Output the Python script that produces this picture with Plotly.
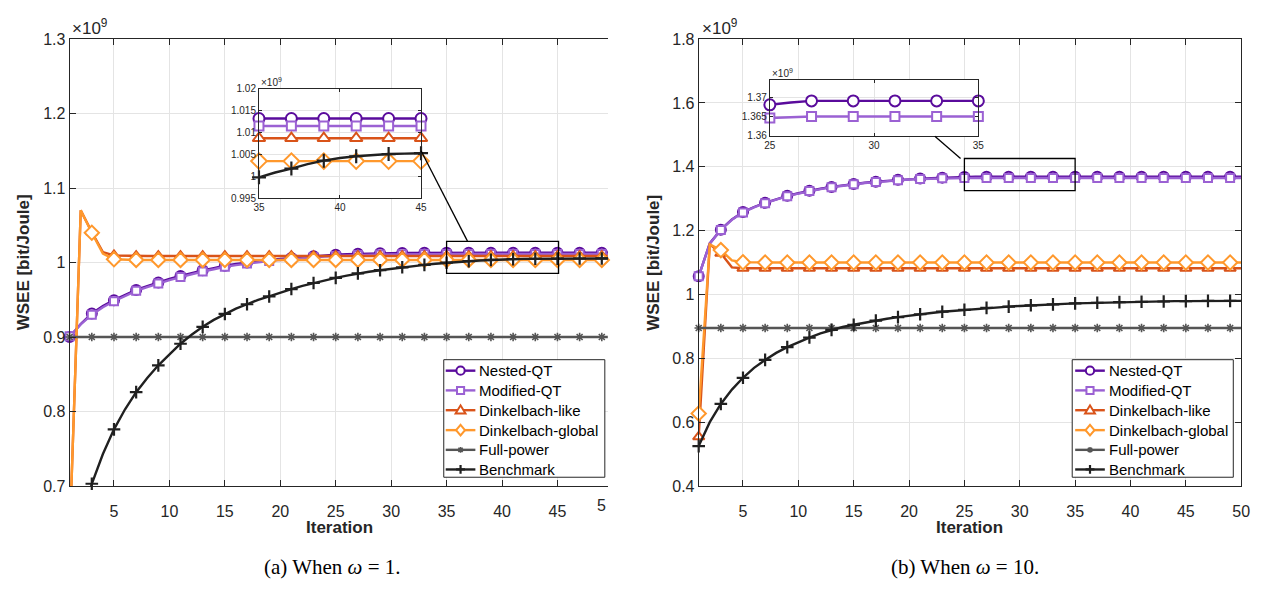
import plotly.graph_objects as go

W, H = 1266, 597
iters = list(range(1, 51))

# ---------------- data, omega = 1 (values in units of 1e9 bit/Joule) ----------------
nested_a = [0.900, 0.9175, 0.9315, 0.9415, 0.9495, 0.9565, 0.9632, 0.9683, 0.9733, 0.978,
            0.982, 0.986, 0.9895, 0.9925, 0.9958, 0.998, 1.0001, 1.0019, 1.0034, 1.0049,
            1.0062, 1.0075, 1.0085, 1.0095, 1.0104, 1.0111, 1.0117, 1.0121, 1.0124, 1.0127,
            1.0129, 1.013, 1.0131, 1.0132, 1.0132, 1.0132, 1.0132, 1.0132, 1.0132, 1.0132,
            1.0132, 1.0132, 1.0132, 1.0132, 1.0132, 1.0132, 1.0132, 1.0132, 1.0132, 1.0132]
modified_a = [0.901, 0.917, 0.930, 0.940, 0.948, 0.955, 0.962, 0.967, 0.972, 0.9765,
              0.9805, 0.9845, 0.988, 0.991, 0.9944, 0.9966, 0.9987, 1.0005, 1.002, 1.0035,
              1.0048, 1.006, 1.007, 1.008, 1.0088, 1.0095, 1.0101, 1.0105, 1.0108, 1.011,
              1.0112, 1.0113, 1.0114, 1.0115, 1.0115, 1.0115, 1.0115, 1.0115, 1.0115, 1.0115,
              1.0115, 1.0115, 1.0115, 1.0115, 1.0115, 1.0115, 1.0115, 1.0115, 1.0115, 1.0115]
dlike_a = [0.63, 1.070, 1.041, 1.014, 1.0095, 1.009, 1.0087, 1.0087, 1.0087, 1.0087,
           1.0087, 1.0087, 1.0087, 1.0087, 1.0087, 1.0087, 1.0087, 1.0087, 1.0087, 1.0087,
           1.0087, 1.0087, 1.0087, 1.0087, 1.0087, 1.0087, 1.0087, 1.0087, 1.0087, 1.0087,
           1.0087, 1.0087, 1.0087, 1.0087, 1.0087, 1.0087, 1.0087, 1.0087, 1.0087, 1.0087,
           1.0087, 1.0087, 1.0087, 1.0087, 1.0087, 1.0087, 1.0087, 1.0087, 1.0087, 1.0087]
dglobal_a = [0.63, 1.070, 1.040, 1.012, 1.0045, 1.0035, 1.0035, 1.0035, 1.0035, 1.0035,
             1.0035, 1.0035, 1.0035, 1.0035, 1.0035, 1.0035, 1.0035, 1.0035, 1.0035, 1.0035,
             1.0035, 1.0035, 1.0035, 1.0035, 1.0035, 1.0035, 1.0035, 1.0035, 1.0035, 1.0035,
             1.0035, 1.0035, 1.0035, 1.0035, 1.0035, 1.0035, 1.0035, 1.0035, 1.0035, 1.0035,
             1.0035, 1.0035, 1.0035, 1.0035, 1.0035, 1.0035, 1.0035, 1.0035, 1.0035, 1.0035]
full_a = [0.9] * 50
bench_a = [0.55, 0.64, 0.703, 0.743, 0.776, 0.803, 0.826, 0.845, 0.862, 0.877,
           0.891, 0.903, 0.9137, 0.923, 0.931, 0.938, 0.944, 0.950, 0.9545, 0.9597,
           0.9644, 0.9686, 0.9725, 0.976, 0.9794, 0.9825, 0.9854, 0.9877, 0.9897, 0.9917,
           0.9936, 0.9953, 0.9968, 0.9984, 0.9998, 1.0009, 1.0018, 1.0028, 1.0036, 1.0042,
           1.0046, 1.0049, 1.0051, 1.0052, 1.0053, 1.0054, 1.0054, 1.0055, 1.0055, 1.0055]

# ---------------- data, omega = 10 ----------------
nested_b = [1.057, 1.160, 1.203, 1.235, 1.258, 1.274, 1.287, 1.299, 1.309, 1.317,
            1.325, 1.331, 1.337, 1.342, 1.346, 1.350, 1.353, 1.356, 1.359, 1.361,
            1.363, 1.3645, 1.366, 1.367, 1.368, 1.3686, 1.369, 1.369, 1.369, 1.369,
            1.369, 1.369, 1.369, 1.369, 1.369, 1.369, 1.369, 1.369, 1.369, 1.369,
            1.369, 1.369, 1.369, 1.369, 1.369, 1.369, 1.369, 1.369, 1.369, 1.369]
modified_b = [1.057, 1.159, 1.202, 1.234, 1.257, 1.273, 1.286, 1.298, 1.308, 1.316,
              1.324, 1.330, 1.336, 1.341, 1.345, 1.349, 1.352, 1.355, 1.358, 1.360,
              1.3615, 1.3628, 1.3637, 1.3642, 1.3646, 1.3648, 1.365, 1.365, 1.365, 1.365,
              1.365, 1.365, 1.365, 1.365, 1.365, 1.365, 1.365, 1.365, 1.365, 1.365,
              1.365, 1.365, 1.365, 1.365, 1.365, 1.365, 1.365, 1.365, 1.365, 1.365]
dlike_b = [0.554, 1.157, 1.129, 1.085, 1.082, 1.082, 1.082, 1.082, 1.082, 1.082,
           1.082, 1.082, 1.082, 1.082, 1.082, 1.082, 1.082, 1.082, 1.082, 1.082,
           1.082, 1.082, 1.082, 1.082, 1.082, 1.082, 1.082, 1.082, 1.082, 1.082,
           1.082, 1.082, 1.082, 1.082, 1.082, 1.082, 1.082, 1.082, 1.082, 1.082,
           1.082, 1.082, 1.082, 1.082, 1.082, 1.082, 1.082, 1.082, 1.082, 1.082]
dglobal_b = [0.627, 1.157, 1.139, 1.107, 1.101, 1.100, 1.100, 1.100, 1.100, 1.100,
             1.100, 1.100, 1.100, 1.100, 1.100, 1.100, 1.100, 1.100, 1.100, 1.100,
             1.100, 1.100, 1.100, 1.100, 1.100, 1.100, 1.100, 1.100, 1.100, 1.100,
             1.100, 1.100, 1.100, 1.100, 1.100, 1.100, 1.100, 1.100, 1.100, 1.100,
             1.100, 1.100, 1.100, 1.100, 1.100, 1.100, 1.100, 1.100, 1.100, 1.100]
full_b = [0.895] * 50
bench_b = [0.525, 0.600, 0.657, 0.702, 0.739, 0.770, 0.795, 0.817, 0.835, 0.851,
           0.865, 0.878, 0.889, 0.898, 0.905, 0.912, 0.918, 0.924, 0.929, 0.934,
           0.938, 0.942, 0.946, 0.949, 0.952, 0.955, 0.958, 0.960, 0.962, 0.964,
           0.966, 0.968, 0.969, 0.971, 0.972, 0.973, 0.974, 0.975, 0.976, 0.977,
           0.977, 0.978, 0.978, 0.979, 0.979, 0.979, 0.980, 0.980, 0.980, 0.980]

names = ["Nested-QT", "Modified-QT", "Dinkelbach-like", "Dinkelbach-global", "Full-power", "Benchmark"]
colors = ["#5A0B9C", "#9B61D3", "#D95319", "#FF982C", "#555555", "#202020"]
symbols = ["circle", "square", "triangle-up", "diamond", "asterisk-open", "cross-thin-open"]
msizes = [10, 8, 10, 11, 7, 9]

x_ticks_a = [5, 10, 15, 20, 25, 30, 35, 40, 45]
x_ticks_b = [5, 10, 15, 20, 25, 30, 35, 40, 45, 50]
y_ticks_a = [0.7, 0.8, 0.9, 1.0, 1.1, 1.2, 1.3]
y_labels_a = ["0.7", "0.8", "0.9", "1", "1.1", "1.2", "1.3"]
y_ticks_b = [0.4, 0.6, 0.8, 1.0, 1.2, 1.4, 1.6, 1.8]
y_labels_b = ["0.4", "0.6", "0.8", "1", "1.2", "1.4", "1.6", "1.8"]
ins_y_a = [0.995, 1.0, 1.005, 1.01, 1.015, 1.02]
ins_y_a_lab = ["0.995", "1", "1.005", "1.01", "1.015", "1.02"]
ins_y_b = [1.36, 1.365, 1.37]
ins_y_b_lab = ["1.36", "1.365", "1.37"]

data_a = [nested_a, modified_a, dlike_a, dglobal_a, full_a, bench_a]
data_b = [nested_b, modified_b, dlike_b, dglobal_b, full_b, bench_b]


def px(x):
    return x / W


def py(y):
    return 1 - y / H


def marker_style(i, size):
    open_sym = symbols[i].endswith("open")
    return dict(symbol=symbols[i], size=size,
                color=colors[i] if open_sym else "white",
                line=dict(color=colors[i], width=(2.2 if i == 5 else 1.6) if open_sym else 2))


fig = go.Figure()


def add_panel(data, xa, ya, yr, xr=None, inset=False):
    lo, hi = (xr if xr else (1, 50))
    for i, ys in enumerate(data):
        xs = [x for x in iters if lo <= x <= hi]
        yv = [ys[x - 1] for x in xs]
        fig.add_trace(go.Scatter(x=xs, y=yv, mode="lines", xaxis=xa, yaxis=ya,
                                 line=dict(color=colors[i], width=2.4),
                                 showlegend=False, hoverinfo="skip"))
        mx = [x for x in xs if x % 2 == 1 and yr[0] <= ys[x - 1] <= yr[1]]
        my = [ys[x - 1] for x in mx]
        fig.add_trace(go.Scatter(x=mx, y=my, mode="markers", xaxis=xa, yaxis=ya,
                                 marker=marker_style(i, msizes[i] + (1 if inset else 0)),
                                 cliponaxis=False, showlegend=False, hoverinfo="skip"))


add_panel(data_a, "x", "y", (0.7, 1.3))
add_panel(data_b, "x2", "y2", (0.4, 1.8))
add_panel(data_a, "x3", "y3", (0.99, 1.03), xr=(35, 45), inset=True)
add_panel(data_b, "x4", "y4", (1.355, 1.38), xr=(25, 35), inset=True)

tfont = dict(family="Liberation Sans, Arial, sans-serif", size=16, color="#262626")
sfont = dict(family="Liberation Sans, Arial, sans-serif", size=10, color="#262626")
common = dict(showline=True, linecolor="#262626", linewidth=1, ticks="inside", ticklen=6,
              tickcolor="#262626", showgrid=True, gridcolor="#E4E4E4", gridwidth=1,
              zeroline=False, tickfont=tfont)
small = dict(common, ticklen=3, tickfont=sfont)

ydom = [py(492), py(32)]
fig.update_layout(
    width=W, height=H, margin=dict(l=0, r=0, t=0, b=0),
    paper_bgcolor="white", plot_bgcolor="white", showlegend=False,
    xaxis=dict(common, domain=[px(64.4), px(609)], range=[1, 49.54], tickvals=x_ticks_a,
               anchor="y", mirror="ticks", ticklabelstandoff=11),
    yaxis=dict(common, domain=ydom, range=[0.7, 1.3], tickvals=y_ticks_a, ticktext=y_labels_a,
               anchor="x", mirror=False),
    xaxis2=dict(common, domain=[px(701), px(1250)], range=[1, 50], tickvals=x_ticks_b,
                anchor="y2", mirror="ticks", ticklabelstandoff=11),
    yaxis2=dict(common, domain=ydom, range=[0.4, 1.8], tickvals=y_ticks_b, ticktext=y_labels_b,
                anchor="x2", mirror="ticks"),
    xaxis3=dict(small, domain=[px(256), px(420)], range=[35, 45], tickvals=[35, 40, 45],
                anchor="y3", mirror="ticks"),
    yaxis3=dict(small, domain=[py(196), py(83)], range=[0.995, 1.02], tickvals=ins_y_a,
                ticktext=ins_y_a_lab, anchor="x3", mirror="ticks"),
    xaxis4=dict(small, domain=[px(773), px(984)], range=[25, 35], tickvals=[25, 30, 35],
                anchor="y4", mirror="ticks"),
    yaxis4=dict(small, domain=[py(131.7), py(74)], range=[1.36, 1.3744], tickvals=ins_y_b,
                ticktext=ins_y_b_lab, anchor="x4", mirror="ticks"),
)

shapes = [
    dict(type="rect", xref="x", yref="y", x0=35, x1=45.1, y0=0.9855, y1=1.0285,
         line=dict(color="black", width=1.3)),
    dict(type="rect", xref="x2", yref="y2", x0=25, x1=35, y0=1.325, y1=1.426,
         line=dict(color="black", width=1.3)),
    dict(type="line", xref="paper", yref="paper", x0=px(420), y0=py(147), x1=px(467), y1=py(240),
         line=dict(color="black", width=1.3)),
    dict(type="line", xref="paper", yref="paper", x0=px(940), y0=py(132), x1=px(966), y1=py(155),
         line=dict(color="black", width=1.3)),
]

bold = dict(family="Liberation Sans, Arial, sans-serif", size=17, color="#262626")
ann = [
    dict(text="<b>WSEE [bit/Joule]</b>", x=px(18), y=py(262), textangle=-90, font=bold),
    dict(text="<b>WSEE [bit/Joule]</b>", x=px(655), y=py(262), textangle=-90, font=bold),
    dict(text="<b>Iteration</b>", x=px(338), y=py(535), font=bold),
    dict(text="<b>Iteration</b>", x=px(975), y=py(535), font=bold),
    dict(text="×10<sup>9</sup>", x=px(65), y=py(20), xanchor="left", font=dict(tfont, size=17)),
    dict(text="×10<sup>9</sup>", x=px(702), y=py(20), xanchor="left", font=dict(tfont, size=17)),
    dict(text="×10<sup>9</sup>", x=px(256), y=py(76), xanchor="left", font=dict(sfont, size=10)),
    dict(text="×10<sup>9</sup>", x=px(773), y=py(67), xanchor="left", font=dict(sfont, size=10)),
    dict(text="5", x=px(609.5), y=py(512), xanchor="right", font=tfont),
    dict(text="(a) When <i>ω</i> = 1.", x=px(330), y=py(575),
         font=dict(family="Liberation Serif, Times New Roman, serif", size=21, color="black")),
    dict(text="(b) When <i>ω</i> = 10.", x=px(970), y=py(575),
         font=dict(family="Liberation Serif, Times New Roman, serif", size=21, color="black")),
]


# ---------------- hand-drawn legends (paper coordinates) ----------------
def legend_marker(i, cx, cy):
    c = colors[i]
    sym = symbols[i]
    base = dict(xref="paper", yref="paper", layer="above")
    if sym == "circle":
        r = 4.2
        return [dict(base, type="circle", x0=px(cx - r), x1=px(cx + r), y0=py(cy + r), y1=py(cy - r),
                     fillcolor="white", line=dict(color=c, width=2))]
    if sym == "square":
        r = 3.6
        return [dict(base, type="rect", x0=px(cx - r), x1=px(cx + r), y0=py(cy + r), y1=py(cy - r),
                     fillcolor="white", line=dict(color=c, width=2))]
    if sym == "triangle-up":
        r = 5
        p = f"M {px(cx - r)},{py(cy + 3.5)} L {px(cx + r)},{py(cy + 3.5)} L {px(cx)},{py(cy - 5)} Z"
        return [dict(base, type="path", path=p, fillcolor="white", line=dict(color=c, width=2))]
    if sym == "diamond":
        p = (f"M {px(cx - 4.5)},{py(cy)} L {px(cx)},{py(cy - 5.5)} L {px(cx + 4.5)},{py(cy)} "
             f"L {px(cx)},{py(cy + 5.5)} Z")
        return [dict(base, type="path", path=p, fillcolor="white", line=dict(color=c, width=2))]
    if sym == "asterisk-open":
        r = 3
        p = (f"M {px(cx - r)},{py(cy)} L {px(cx + r)},{py(cy)} "
             f"M {px(cx)},{py(cy - r)} L {px(cx)},{py(cy + r)} "
             f"M {px(cx - 2.2)},{py(cy - 2.2)} L {px(cx + 2.2)},{py(cy + 2.2)} "
             f"M {px(cx - 2.2)},{py(cy + 2.2)} L {px(cx + 2.2)},{py(cy - 2.2)}")
        return [dict(base, type="path", path=p, line=dict(color=c, width=1.6))]
    r = 4.5
    p = (f"M {px(cx - r)},{py(cy)} L {px(cx + r)},{py(cy)} "
         f"M {px(cx)},{py(cy - r)} L {px(cx)},{py(cy + r)}")
    return [dict(base, type="path", path=p, line=dict(color=c, width=2.2))]


leg_rows = [373.3, 393.6, 414, 434.5, 454.8, 475]
for (bx0, bx1, lx0) in [(443, 606, 445), (1079, 1242, 1082)]:
    shapes.append(dict(type="rect", xref="paper", yref="paper", layer="above",
                       x0=px(bx0), x1=px(bx1), y0=py(483), y1=py(362),
                       fillcolor="white", line=dict(color="#262626", width=1)))
    for i, ry in enumerate(leg_rows):
        shapes.append(dict(type="line", xref="paper", yref="paper", layer="above",
                           x0=px(lx0), x1=px(lx0 + 30), y0=py(ry), y1=py(ry),
                           line=dict(color=colors[i], width=2.4)))
        shapes.extend(legend_marker(i, lx0 + 15, ry))
        ann.append(dict(text=names[i], x=px(lx0 + 32), y=py(ry), xanchor="left",
                        font=dict(family="Liberation Sans, Arial, sans-serif", size=15, color="black")))

for a in ann:
    a.setdefault("xanchor", "center")
    a.setdefault("yanchor", "middle")
    a.update(xref="paper", yref="paper", showarrow=False)
fig.update_layout(shapes=shapes, annotations=ann)

fig.write_html("out.html")
